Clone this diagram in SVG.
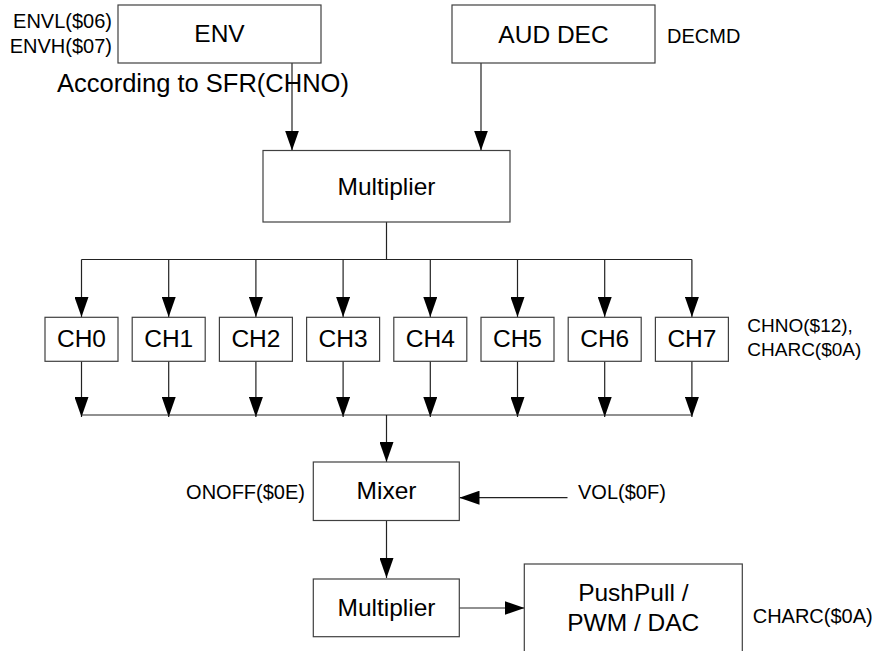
<svg xmlns="http://www.w3.org/2000/svg" width="872" height="651" viewBox="0 0 872 651">
<defs>
<style>
.box{fill:#fff;stroke:#404040;stroke-width:1.2}
.lbl{font-family:"Liberation Sans",Arial,sans-serif;font-size:24.5px;fill:#000;text-anchor:middle}
.sm{font-family:"Liberation Sans",Arial,sans-serif;font-size:20px;fill:#000}
.ln{fill:none;stroke:#222;stroke-width:1.2}
</style>
<marker id="ah" markerUnits="userSpaceOnUse" markerWidth="20" markerHeight="14" refX="20" refY="7" orient="auto">
<path d="M0,0 L20,7 L0,14 z" fill="#000"/>
</marker>
</defs>
<rect width="872" height="651" fill="#fff"/>

<g id="connectors">
<line class="ln" x1="292" y1="63" x2="292" y2="150.5" marker-end="url(#ah)"/>
<line class="ln" x1="481" y1="63" x2="481" y2="150.5" marker-end="url(#ah)"/>
<line class="ln" x1="386.5" y1="222" x2="386.5" y2="259.5"/>
<line class="ln" x1="81.5" y1="259.5" x2="691.9" y2="259.5"/>
<line class="ln" x1="81.5" y1="259.5" x2="81.5" y2="317" marker-end="url(#ah)"/>
<line class="ln" x1="168.7" y1="259.5" x2="168.7" y2="317" marker-end="url(#ah)"/>
<line class="ln" x1="255.9" y1="259.5" x2="255.9" y2="317" marker-end="url(#ah)"/>
<line class="ln" x1="343.1" y1="259.5" x2="343.1" y2="317" marker-end="url(#ah)"/>
<line class="ln" x1="430.3" y1="259.5" x2="430.3" y2="317" marker-end="url(#ah)"/>
<line class="ln" x1="517.5" y1="259.5" x2="517.5" y2="317" marker-end="url(#ah)"/>
<line class="ln" x1="604.7" y1="259.5" x2="604.7" y2="317" marker-end="url(#ah)"/>
<line class="ln" x1="691.9" y1="259.5" x2="691.9" y2="317" marker-end="url(#ah)"/>
<line class="ln" x1="81.5" y1="361" x2="81.5" y2="417" marker-end="url(#ah)"/>
<line class="ln" x1="168.7" y1="361" x2="168.7" y2="417" marker-end="url(#ah)"/>
<line class="ln" x1="255.9" y1="361" x2="255.9" y2="417" marker-end="url(#ah)"/>
<line class="ln" x1="343.1" y1="361" x2="343.1" y2="417" marker-end="url(#ah)"/>
<line class="ln" x1="430.3" y1="361" x2="430.3" y2="417" marker-end="url(#ah)"/>
<line class="ln" x1="517.5" y1="361" x2="517.5" y2="417" marker-end="url(#ah)"/>
<line class="ln" x1="604.7" y1="361" x2="604.7" y2="417" marker-end="url(#ah)"/>
<line class="ln" x1="691.9" y1="361" x2="691.9" y2="417" marker-end="url(#ah)"/>
<line class="ln" x1="81.5" y1="415" x2="691.9" y2="415"/>
<line class="ln" x1="386.5" y1="415" x2="386.5" y2="462" marker-end="url(#ah)"/>
<line class="ln" x1="567.5" y1="497.7" x2="459.5" y2="497.7" marker-end="url(#ah)"/>
<line class="ln" x1="386.5" y1="520.5" x2="386.5" y2="578" marker-end="url(#ah)"/>
<line class="ln" x1="459" y1="608" x2="524.5" y2="608" marker-end="url(#ah)"/>
</g>

<g id="env">
<rect class="box" x="118" y="5" width="203" height="58"/>
<text class="lbl" x="219.5" y="42">ENV</text>
<text class="sm" x="112" y="28.3" text-anchor="end">ENVL($06)</text>
<text class="sm" x="112" y="53.3" text-anchor="end">ENVH($07)</text>
<text class="sm" x="57" y="91.5" style="font-size:25.5px">According to SFR(CHNO)</text>
</g>

<g id="auddec">
<rect class="box" x="452" y="5" width="203" height="58"/>
<text class="lbl" x="553.5" y="42.5">AUD DEC</text>
<text class="sm" x="667" y="42.7">DECMD</text>
</g>

<g id="multiplier1">
<rect class="box" x="263" y="150.5" width="247" height="71.5"/>
<text class="lbl" x="386.5" y="195">Multiplier</text>
</g>

<g id="ch0"><rect class="box" x="45" y="317.3" width="73" height="44"/><text class="lbl" x="81.5" y="347.3">CH0</text></g>
<g id="ch1"><rect class="box" x="132.2" y="317.3" width="73" height="44"/><text class="lbl" x="168.7" y="347.3">CH1</text></g>
<g id="ch2"><rect class="box" x="219.4" y="317.3" width="73" height="44"/><text class="lbl" x="255.9" y="347.3">CH2</text></g>
<g id="ch3"><rect class="box" x="306.6" y="317.3" width="73" height="44"/><text class="lbl" x="343.1" y="347.3">CH3</text></g>
<g id="ch4"><rect class="box" x="393.8" y="317.3" width="73" height="44"/><text class="lbl" x="430.3" y="347.3">CH4</text></g>
<g id="ch5"><rect class="box" x="481" y="317.3" width="73" height="44"/><text class="lbl" x="517.5" y="347.3">CH5</text></g>
<g id="ch6"><rect class="box" x="568.2" y="317.3" width="73" height="44"/><text class="lbl" x="604.7" y="347.3">CH6</text></g>
<g id="ch7"><rect class="box" x="655.4" y="317.3" width="73" height="44"/><text class="lbl" x="691.9" y="347.3">CH7</text></g>
<g id="ch-label">
<text class="sm" x="747.3" y="331.7" style="font-size:19px">CHNO($12),</text>
<text class="sm" x="747.3" y="356" style="font-size:19px">CHARC($0A)</text>
</g>

<g id="mixer">
<rect class="box" x="313.3" y="462" width="146" height="58.5"/>
<text class="lbl" x="386.5" y="499.3">Mixer</text>
<text class="sm" x="305" y="499.3" text-anchor="end">ONOFF($0E)</text>
<text class="sm" x="578" y="499.3">VOL($0F)</text>
</g>

<g id="multiplier2">
<rect class="box" x="313.3" y="579" width="146" height="57.7"/>
<text class="lbl" x="386.5" y="616">Multiplier</text>
</g>

<g id="output">
<rect class="box" x="524.3" y="564" width="218" height="100"/>
<text class="lbl" x="633.3" y="601">PushPull /</text>
<text class="lbl" x="633.3" y="631">PWM / DAC</text>
<text class="sm" x="752.7" y="623">CHARC($0A)</text>
</g>
</svg>
